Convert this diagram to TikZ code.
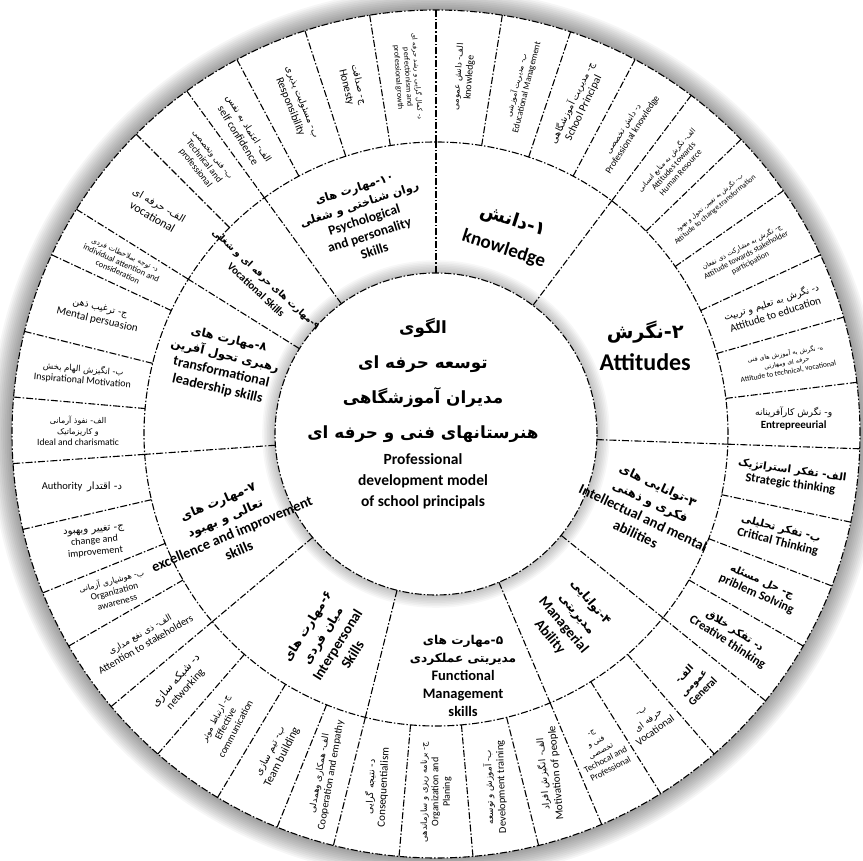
\documentclass[tikz,border=0pt]{standalone}
\usepackage{fontspec}
\setmainfont{Carlito}
\newfontfamily\farsi[Script=Arabic,Scale=0.84]{DejaVu Sans}
\TeXXeTstate=1
\newcommand{\fa}[1]{{\farsi\beginR #1\endR}}
\pgfdeclareradialshading{coreglow}{\pgfpoint{0bp}{0bp}}{color(0bp)=(white); color(33bp)=(white); color(50bp)=(black!24); color(100bp)=(black!24)}
\tikzset{
  ring/.style={black, line width=1.1pt, dash pattern=on 7pt off 2pt on 1.5pt off 2pt},
  midtxt/.style={align=center, inner sep=1pt, font=\fontsize{14.5}{18}\selectfont\bfseries},
  outtxt/.style={align=center, inner sep=1pt, font=\fontsize{10}{11.5}\selectfont},
}

\begin{document}
\begin{tikzpicture}[x=1pt,y=1pt]
  \useasboundingbox (-436,-427) rectangle (427,434);
  \fill[white] (-436,-427) rectangle (427,434);
  % soft shadow round the wheel
  \foreach \i in {1,...,12}
    \fill[black,opacity=.035] (0,0) circle[radius={424+1.8*\i}];
  \fill[white] (0,0) circle[radius=424];
  \foreach \i in {1,...,8}
    \fill[black,opacity=.03] (0,0) circle[radius={161+1.6*\i}];
  \shade[shading=coreglow] (0,0) circle[radius=161];

  % rings and spokes
  \draw[ring] (0,0) circle[radius=424];
  \draw[ring] (0,0) circle[radius=292];
  \draw[ring] (0,0) circle[radius=161];
  \foreach \a in {90,53,-2,-39,-67,-104,-140,184,148,126}
    \draw[ring] (\a:161) -- (\a:292);
  \foreach \a in {81,71.5,62,53,44,35,25,16,7,-2,-12,-21,-30,-39,-49,-58,-67,
                  -76,-85,-95,-104,-112,-121,-131,-140,-150,-158,-167,184,
                  175,166,155,148,135,126,118,108,99,90}
    \draw[ring] (\a:292) -- (\a:424);

  % centre
  \node[align=center, font=\fontsize{20}{35}\selectfont\bfseries] (model) at (-13,54)
    {\fa{الگوی}\\\fa{توسعه حرفه ای}\\\fa{مدیران آموزشگاهی}\\\fa{هنرستانهای فنی و حرفه ای}};
  \node[align=center, font=\fontsize{15.5}{21}\selectfont\bfseries] (modelen) at (-13,-47)
    {Professional\\development model\\of school principals};

  % main areas
  \node[midtxt, rotate=-18, font=\fontsize{19}{30}\selectfont\bfseries] (knw) at (70:212)
    {\fa{\fontsize{22}{30}\selectfont ۱-دانش}\\knowledge};
  \node[midtxt, font=\fontsize{24}{32}\selectfont\bfseries] (att) at (22.8:227)
    {\fa{\fontsize{23}{32}\selectfont ۲-نگرش}\\Attitudes};
  \node[midtxt, rotate=-25] (intl) at (-19.8:224)
    {\fa{۳-توانایی های}\\\fa{فکری و ذهنی}\\Intellectual and mental\\abilities};
  \node[midtxt, rotate=-50] (mgr) at (-54.2:229)
    {\fa{۴-توانایی}\\\fa{مدیریتی}\\Managerial\\Ability};
  \node[midtxt] (func) at (-83.6:243)
    {\fa{۵-مهارت های}\\\fa{مدیریتی عملکردی}\\Functional\\Management\\skills};
  \node[midtxt, rotate=58] (inter) at (-117.2:232)
    {\fa{۶-مهارت های}\\\fa{میان فردی}\\Interpersonal\\Skills};
  \node[midtxt, rotate=23] (excl) at (-156.1:227)
    {\fa{۷-مهارت های}\\\fa{تعالی و بهبود}\\excellence and improvement\\skills};
  \node[midtxt, rotate=-13, font=\fontsize{14}{17}\selectfont\bfseries] (lead) at (161.9:224)
    {\fa{۸-مهارت های}\\\fa{رهبری تحول آفرین}\\transformational\\leadership skills};
  \node[midtxt, rotate=-43, font=\fontsize{11}{15}\selectfont\bfseries] (voc) at (139.5:230)
    {\fa{۹-مهارت های حرفه ای و شغلی}\\Vocational Skills};
  \node[midtxt, rotate=18, font=\fontsize{13.5}{16.5}\selectfont\bfseries] (psy) at (108.5:226)
    {\fa{۱۰-مهارت های}\\\fa{روان شناختی و شغلی}\\Psychological\\and personality\\Skills};

  % knowledge
  \node[outtxt, rotate=85.5] (k1) at (85.5:358) {\fa{الف- دانش عمومی}\\knowledge};
  \node[outtxt, rotate=76, font=\fontsize{9}{10.5}\selectfont] (k2) at (76.2:358) {\fa{ب- مدیریت آموزشی}\\Educational Management};
  \node[outtxt, rotate=64, font=\fontsize{11}{12.5}\selectfont] (k3) at (66.7:358) {\fa{ج- مدیریت آموزشگاهی}\\School Principal};
  \node[outtxt, rotate=57, font=\fontsize{9.5}{11}\selectfont] (k4) at (57.5:358) {\fa{د- دانش تخصصی}\\Professional knowledge};
  % attitudes
  \node[outtxt, rotate=48, font=\fontsize{8.5}{9.5}\selectfont] (a1) at (48.5:358) {\fa{الف- نگرش به منابع انسانی}\\Attitudes towards\\Human Resource};
  \node[outtxt, rotate=40, font=\fontsize{7.5}{9}\selectfont] (a2) at (39.5:358) {\fa{ب- نگرش به تغییر، تحول و بهبود}\\Attitude to change,transformation};
  \node[outtxt, rotate=28, font=\fontsize{8}{9}\selectfont] (a3) at (30:358) {\fa{ج- نگرش به مشارکت ذی نفعان}\\Attitude towards stakeholder\\participation};
  \node[outtxt, rotate=18, font=\fontsize{11}{13}\selectfont] (a4) at (20.5:360) {\fa{د- نگرش به تعلیم و تربیت}\\Attitude to education};
  \node[outtxt, rotate=10, font=\fontsize{7.5}{9}\selectfont] (a5) at (11.5:358) {\fa{ه- نگرش به آموزش های فنی}\\\fa{حرفه ای ومهارتی}\\Attitude to technical, vocational};
  \node[outtxt, rotate=0, font=\fontsize{11}{13}\selectfont] (a6) at (2.5:358) {\fa{و- نگرش کارآفرینانه}\\\textbf{Entrepreeurial}};
  % intellectual
  \node[outtxt, rotate=-8, font=\fontsize{12.5}{14}\selectfont\bfseries] (i1) at (-7:358) {\fa{الف- تفکر استراتژیک}\\Strategic thinking};
  \node[outtxt, rotate=-14, font=\fontsize{12.5}{14}\selectfont\bfseries] (i2) at (-16.5:358) {\fa{ب- تفکر تحلیلی}\\Critical Thinking};
  \node[outtxt, rotate=-24, font=\fontsize{12.5}{14}\selectfont\bfseries] (i3) at (-25.5:358) {\fa{ج- حل مسئله}\\priblem Solving};
  \node[outtxt, rotate=-33, font=\fontsize{12.5}{14}\selectfont\bfseries] (i4) at (-34.5:358) {\fa{د- تفکر خلاق}\\Creative thinking};
  % managerial
  \node[outtxt, rotate=46, font=\fontsize{11}{13}\selectfont\bfseries] (g1) at (-44:358) {\fa{الف-}\\\fa{عمومی}\\General};
  \node[outtxt, rotate=36, font=\fontsize{10.5}{12.5}\selectfont] (g2) at (-53.5:358) {\fa{ب-}\\\fa{حرفه ای}\\Vocational};
  \node[outtxt, rotate=28, font=\fontsize{9}{10.5}\selectfont] (g3) at (-62.5:358) {\fa{ج-}\\\fa{فنی و}\\\fa{تخصصی}\\Techocal and\\Professional};
  % functional
  \node[outtxt, rotate=95, font=\fontsize{11}{13}\selectfont] (f1) at (-71.5:358) {\fa{الف- انگیزش افراد}\\Motivation of people};
  \node[outtxt, rotate=92, font=\fontsize{10.5}{12.5}\selectfont] (f2) at (-80.5:358) {\fa{ب- آموزش و توسعه}\\Development training};
  \node[outtxt, rotate=90] (f3) at (-90:358) {\fa{ج- برنامه ریزی و سازماندهی}\\Organization and\\Planing};
  \node[outtxt, rotate=87, font=\fontsize{11}{13}\selectfont] (f4) at (-99.5:358) {\fa{د- نتیجه گرایی}\\Consequentialism};
  % interpersonal
  \node[outtxt, rotate=80, font=\fontsize{10.5}{12}\selectfont] (p1) at (-108:358) {\fa{الف- همکاری وهمدلی}\\Cooperation and empathy};
  \node[outtxt, rotate=63, font=\fontsize{11.5}{13.5}\selectfont] (p2) at (-116.5:358) {\fa{ب- تیم سازی}\\Team building};
  \node[outtxt, rotate=62] (p3) at (-126:358) {\fa{ج- ارتباط موثر}\\Effective\\communication};
  \node[outtxt, rotate=48, font=\fontsize{11}{13}\selectfont] (p4) at (-135.5:358) {\fa{\fontsize{13}{13}\selectfont د- شبکه سازی}\\networking};
  % excellence
  \node[outtxt, rotate=30, font=\fontsize{10.5}{12}\selectfont] (e1) at (-145:358) {\fa{الف- ذی نفع مداری}\\Attention to stakeholders};
  \node[outtxt, rotate=15, font=\fontsize{9.5}{11}\selectfont] (e2) at (-154:358) {\fa{ب- هوشیاری آزمانی}\\Organization\\awareness};
  \node[outtxt, rotate=5, font=\fontsize{10}{11.5}\selectfont] (e3) at (-162.5:358) {\fa{\fontsize{12}{12}\selectfont ج- تغییر وبهبود}\\change and\\improvement};
  \node[outtxt, rotate=0, font=\fontsize{10.5}{12}\selectfont] (e4) at (-171.5:358) {Authority\ \ \fa{\fontsize{12}{12}\selectfont د- اقتدار}};
  % transformational
  \node[outtxt, rotate=0, font=\fontsize{9.5}{11}\selectfont] (t1) at (179.5:358) {\fa{الف- نفوذ آرمانی}\\\fa{و کاریزماتیک}\\Ideal and charismatic};
  \node[outtxt, rotate=-5] (t2) at (170.5:358) {\fa{ب- انگیزش الهام بخش}\\Inspirational Motivation};
  \node[outtxt, rotate=-13, font=\fontsize{11}{13}\selectfont] (t3) at (160.5:358) {\fa{ج- ترغیب ذهن}\\Mental persuasion};
  \node[outtxt, rotate=-24, font=\fontsize{8.5}{9.5}\selectfont] (t4) at (151.5:358) {\fa{د- توجه بملاحظات فردی}\\individual attention and\\consideration};
  % vocational
  \node[outtxt, rotate=-30, font=\fontsize{12}{14}\selectfont] (v1) at (141.5:358) {\fa{الف- حرفه ای}\\vocational};
  \node[outtxt, rotate=-52, font=\fontsize{9.5}{11}\selectfont] (v2) at (130.5:358) {\fa{ب- فنی وتخصصی}\\Technical and\\professional};
  % psychological
  \node[outtxt, rotate=-58, font=\fontsize{11}{13}\selectfont] (s1) at (122.5:358) {\fa{الف- اعتماد به نفس}\\self confidence};
  \node[outtxt, rotate=-68, font=\fontsize{11}{13}\selectfont] (s2) at (113:358) {\fa{ب- مسئولیت پذیری}\\Responsibility};
  \node[outtxt, rotate=-77, font=\fontsize{11}{13}\selectfont] (s3) at (103.5:358) {\fa{ج- صداقت}\\Honesty};
  \node[outtxt, rotate=-86, font=\fontsize{8}{9.5}\selectfont] (s4) at (94.5:358) {\fa{د- کمال گرایی و رشد حرفه ای}\\perfectionism and\\professional growth};
\end{tikzpicture}
\end{document}
